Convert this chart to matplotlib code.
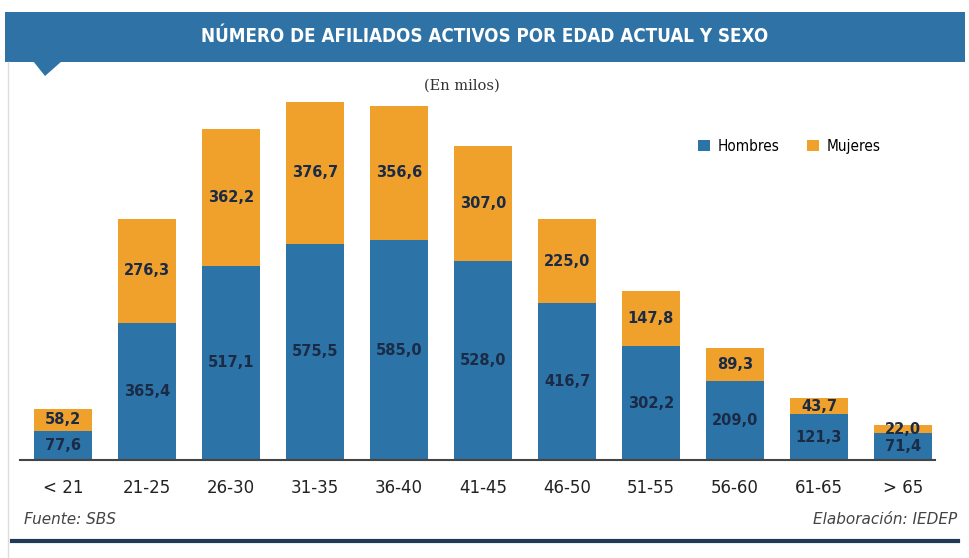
import matplotlib
matplotlib.use("Agg")
import matplotlib.pyplot as plt
from matplotlib.patches import Rectangle, Polygon
from matplotlib.lines import Line2D

categories = ["< 21", "21-25", "26-30", "31-35", "36-40", "41-45", "46-50", "51-55", "56-60", "61-65", "> 65"]
hombres = [77.6, 365.4, 517.1, 575.5, 585.0, 528.0, 416.7, 302.2, 209.0, 121.3, 71.4]
mujeres = [58.2, 276.3, 362.2, 376.7, 356.6, 307.0, 225.0, 147.8, 89.3, 43.7, 22.0]

W, H = 970, 558
BLUE = "#2c73a7"
ORANGE = "#f0a12c"
NAVY = "#1b2b45"

fig = plt.figure(figsize=(W / 100, H / 100), dpi=100)
fig.patch.set_facecolor("white")

def fx(x):
    return x / W

def fy(y):
    return 1 - y / H

# banner
fig.patches.append(Rectangle((fx(5), fy(62)), fx(960), 50 / H, transform=fig.transFigure,
                             facecolor="#2f73a6", edgecolor="none", zorder=0))
fig.patches.append(Polygon([(fx(33), fy(61)), (fx(62), fy(61)), (fx(45), fy(76))],
                           closed=True, transform=fig.transFigure, facecolor="#2f73a6",
                           edgecolor="none", zorder=0))
fig.text(fx(485), fy(37), "NÚMERO DE AFILIADOS ACTIVOS POR EDAD ACTUAL Y SEXO",
         ha="center", va="center", color="white", fontsize=13.5, fontweight="bold",
         fontstretch="condensed", family=["DejaVu Sans"])
fig.text(fx(462), fy(86), "(En milos)", ha="center", va="center", color="#333333",
         fontsize=10.5, family=["DejaVu Serif"])

# left faint border
fig.add_artist(Line2D([fx(8), fx(8)], [fy(62), fy(558)], transform=fig.transFigure,
                      color="#dddddd", lw=1))
# bottom line
fig.add_artist(Line2D([fx(12), fx(958)], [fy(541), fy(541)], transform=fig.transFigure,
                      color="#1f3a55", lw=3))

# axes: baseline at y=460 px, 0.376 px per unit
scale = 0.376
ax_top = 95
ax_h = 460 - ax_top
ax = fig.add_axes([fx(20), fy(460), fx(935 - 20), ax_h / H])
ax.set_facecolor("none")
x = list(range(len(categories)))
ax.bar(x, hombres, width=0.69, color=BLUE, zorder=2)
ax.bar(x, mujeres, width=0.69, bottom=hombres, color=ORANGE, zorder=2)
ax.set_xlim(-0.512, 10.381)
ax.set_ylim(0, ax_h / scale)

for i in x:
    ax.text(i, hombres[i] / 2, f"{hombres[i]:.1f}".replace(".", ","), ha="center", va="center",
            color=NAVY, fontsize=10.5, fontweight="bold", zorder=3)
    ax.text(i, hombres[i] + mujeres[i] / 2, f"{mujeres[i]:.1f}".replace(".", ","), ha="center",
            va="center", color=NAVY, fontsize=10.5, fontweight="bold", zorder=3)

for s in ["top", "right", "left"]:
    ax.spines[s].set_visible(False)
ax.spines["bottom"].set_color("#444444")
ax.spines["bottom"].set_linewidth(1.5)
ax.set_yticks([])
ax.set_xticks(x)
ax.set_xticklabels(categories, fontsize=12, color="#222222")
ax.tick_params(axis="x", length=0, pad=14)

# legend
lg = ax.legend(["Hombres", "Mujeres"], loc="upper left", bbox_to_anchor=(fx(684 - 20) / fx(915), 1 - (125 - ax_top) / ax_h),
               ncol=2, frameon=False, handlelength=0.8, handleheight=0.8, handletextpad=0.5,
               columnspacing=1.8, prop={"size": 11, "stretch": "condensed"})

fig.text(fx(24), fy(520), "Fuente: SBS", ha="left", va="center", fontsize=11, style="italic", color="#444444")
fig.text(fx(957), fy(520), "Elaboración: IEDEP", ha="right", va="center", fontsize=11, style="italic", color="#444444")

fig.savefig("out.png", dpi=100, facecolor="white")
